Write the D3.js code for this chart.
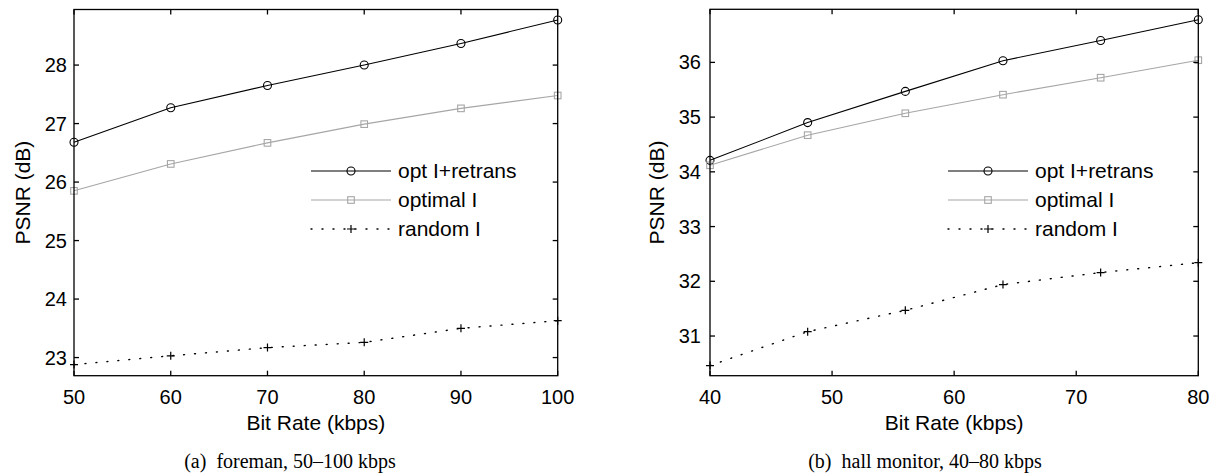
<!DOCTYPE html>
<html>
<head>
<meta charset="utf-8">
<script src="https://cdn.jsdelivr.net/npm/d3@7"></script>
<style>
  body { margin: 0; background: #fff; }
  text { font-family: "Liberation Sans", Arial, sans-serif; fill: #000; }
  .caption { font-family: "Liberation Serif", "Times New Roman", serif; white-space: pre; }
</style>
</head>
<body>
<div id="chart"></div>
<script>
// data
const seriesNames = ["opt I+retrans", "optimal I", "random I"];

const foremanRates = [50, 60, 70, 80, 90, 100];
const foremanOptRetrans = [26.68, 27.27, 27.65, 28.00, 28.37, 28.77];
const foremanOptimal = [25.85, 26.31, 26.67, 26.99, 27.26, 27.48];
const foremanRandom = [22.88, 23.03, 23.17, 23.26, 23.50, 23.63];
const foremanXTicks = [50, 60, 70, 80, 90, 100];
const foremanYTicks = [23, 24, 25, 26, 27, 28];

const hallRates = [40, 48, 56, 64, 72, 80];
const hallOptRetrans = [34.21, 34.90, 35.47, 36.03, 36.40, 36.78];
const hallOptimal = [34.12, 34.67, 35.07, 35.41, 35.72, 36.04];
const hallRandom = [30.46, 31.08, 31.47, 31.94, 32.16, 32.34];
const hallXTicks = [40, 50, 60, 70, 80];
const hallYTicks = [31, 32, 33, 34, 35, 36];

const captions = ["(a)  foreman, 50\u2013100 kbps", "(b)  hall monitor, 40\u201380 kbps"];

const width = 1218;
const height = 476;

const svg = d3.select("#chart")
  .append("svg")
    .attr("width", width)
    .attr("height", height);

// line styles, one per series
const styles = [
  { stroke: "#000", dash: null, marker: "circle" },
  { stroke: "#a6a6a6", dash: null, marker: "square" },
  { stroke: "#000", dash: "1,10", marker: "plus" }
];

const panels = [
  {
    rates: foremanRates, series: [foremanOptRetrans, foremanOptimal, foremanRandom],
    xDomain: [50, 100], yDomain: [22.69, 28.95],
    left: 74, right: 557.7, top: 9.5, bottom: 375.7,
    xTicks: foremanXTicks, yTicks: foremanYTicks,
    legendX: 311, yLabelX: 30, labelGap: 7,
    caption: captions[0], captionX: 290
  },
  {
    rates: hallRates, series: [hallOptRetrans, hallOptimal, hallRandom],
    xDomain: [40, 80], yDomain: [30.275, 36.97],
    left: 710, right: 1198.3, top: 9.3, bottom: 375.7,
    xTicks: hallXTicks, yTicks: hallYTicks,
    legendX: 948, yLabelX: 664, labelGap: 9,
    caption: captions[1], captionX: 925
  }
];

function drawMarker(g, type, x, y, color) {
  if (type === "circle") {
    g.append("circle")
      .attr("cx", x).attr("cy", y).attr("r", 4)
      .attr("fill", "none").attr("stroke", color).attr("stroke-width", 1.1);
  } else if (type === "square") {
    g.append("rect")
      .attr("x", x - 3.3).attr("y", y - 3.3)
      .attr("width", 6.6).attr("height", 6.6)
      .attr("fill", "none").attr("stroke", color).attr("stroke-width", 1.1);
  } else {
    g.append("path")
      .attr("d", `M${x - 4},${y}H${x + 4}M${x},${y - 4}V${y + 4}`)
      .attr("stroke", color).attr("stroke-width", 1.2);
  }
}

panels.forEach(p => {
  const x = d3.scaleLinear().domain(p.xDomain).range([p.left, p.right]);
  const y = d3.scaleLinear().domain(p.yDomain).range([p.bottom, p.top]);
  const g = svg.append("g");

  // data lines
  p.series.forEach((vals, si) => {
    const st = styles[si];
    const line = d3.line()
      .x((d, i) => x(p.rates[i]))
      .y(d => y(d));
    g.append("path")
      .datum(vals)
      .attr("d", line)
      .attr("fill", "none")
      .attr("stroke", st.stroke)
      .attr("stroke-width", si === 2 ? 1.4 : 1.1)
      .attr("stroke-linecap", si === 2 ? "round" : "butt")
      .attr("stroke-dasharray", st.dash);
    vals.forEach((v, i) => drawMarker(g, st.marker, x(p.rates[i]), y(v), st.stroke));
  });

  // box with inward ticks on all four sides
  const axes = g.append("g").attr("stroke", "#000").attr("stroke-width", 1.3);
  axes.append("rect")
    .attr("x", p.left).attr("y", p.top)
    .attr("width", p.right - p.left).attr("height", p.bottom - p.top)
    .attr("fill", "none");
  const tickLen = 5;
  p.xTicks.forEach(t => {
    axes.append("line").attr("x1", x(t)).attr("x2", x(t)).attr("y1", p.bottom).attr("y2", p.bottom - tickLen);
    axes.append("line").attr("x1", x(t)).attr("x2", x(t)).attr("y1", p.top).attr("y2", p.top + tickLen);
  });
  p.yTicks.forEach(t => {
    axes.append("line").attr("y1", y(t)).attr("y2", y(t)).attr("x1", p.left).attr("x2", p.left + tickLen);
    axes.append("line").attr("y1", y(t)).attr("y2", y(t)).attr("x1", p.right).attr("x2", p.right - tickLen);
  });

  // tick labels
  g.selectAll(".xt")
    .data(p.xTicks)
    .join("text")
      .attr("x", d => x(d))
      .attr("y", 403.5)
      .attr("text-anchor", "middle")
      .attr("font-size", 20)
      .text(d => d);
  g.selectAll(".yt")
    .data(p.yTicks)
    .join("text")
      .attr("x", p.left - p.labelGap)
      .attr("y", d => y(d))
      .attr("dy", "0.35em")
      .attr("text-anchor", "end")
      .attr("font-size", 20)
      .text(d => d);

  // axis titles
  g.append("text")
    .attr("x", (p.left + p.right) / 2)
    .attr("y", 430)
    .attr("text-anchor", "middle")
    .attr("font-size", 21)
    .text("Bit Rate (kbps)");
  g.append("text")
    .attr("transform", `translate(${p.yLabelX},${(p.top + p.bottom) / 2}) rotate(-90)`)
    .attr("text-anchor", "middle")
    .attr("font-size", 21)
    .text("PSNR (dB)");

  // legend
  seriesNames.forEach((name, si) => {
    const st = styles[si];
    const ly = 171 + si * 29;
    g.append("line")
      .attr("x1", p.legendX).attr("x2", p.legendX + 80)
      .attr("y1", ly).attr("y2", ly)
      .attr("stroke", st.stroke)
      .attr("stroke-width", si === 2 ? 1.4 : 1.1)
      .attr("stroke-linecap", si === 2 ? "round" : "butt")
      .attr("stroke-dasharray", st.dash);
    drawMarker(g, st.marker, p.legendX + 40, ly, st.stroke);
    g.append("text")
      .attr("x", p.legendX + 87)
      .attr("y", ly)
      .attr("dy", "0.35em")
      .attr("font-size", 21)
      .text(name);
  });

  // caption below the panel
  g.append("text")
    .attr("class", "caption")
    .attr("x", p.captionX)
    .attr("y", 468)
    .attr("text-anchor", "middle")
    .attr("font-size", 20)
    .text(p.caption);
});
</script>
</body>
</html>
